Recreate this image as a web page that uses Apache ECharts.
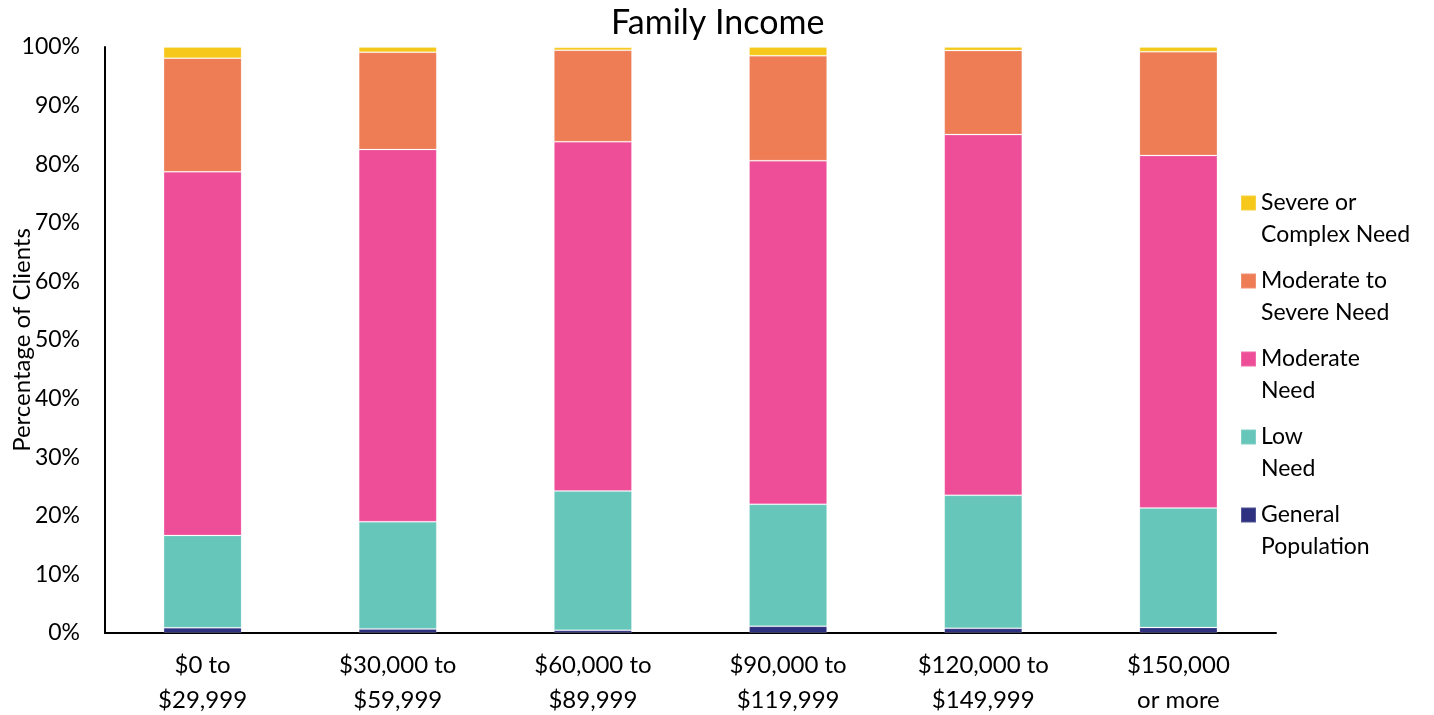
<!DOCTYPE html>
<html>
<head>
<meta charset="utf-8">
<title>Family Income</title>
<script src="https://cdn.jsdelivr.net/npm/echarts@6/dist/echarts.min.js"></script>
<style>
  html, body { margin: 0; padding: 0; background: #ffffff; }
  #chart { width: 1434px; height: 715px; }
</style>
</head>
<body>
<div id="chart"></div>
<script>
// Income brackets (x axis)
const categories = [
  '$0 to\n$29,999',
  '$30,000 to\n$59,999',
  '$60,000 to\n$89,999',
  '$90,000 to\n$119,999',
  '$120,000 to\n$149,999',
  '$150,000\nor more'
];

// Share of clients in each need level, percent (stacked bottom to top)
const generalPopulation = [0.9, 0.7, 0.45, 1.15, 0.8, 0.95];
const lowNeed           = [15.75, 18.3, 23.8, 20.8, 22.7, 20.4];
const moderateNeed      = [62.05, 63.5, 59.6, 58.65, 61.55, 60.15];
const moderateToSevere  = [19.4, 16.6, 15.6, 17.9, 14.35, 17.7];
const severeOrComplex   = [1.9, 0.9, 0.5, 1.5, 0.6, 0.8];

// Y axis ticks
const yTicks = [0, 10, 20, 30, 40, 50, 60, 70, 80, 90, 100];

const FONT = 'Lato, "Open Sans", sans-serif';

const seriesDefs = [
  { name: 'General Population',      label: 'General\nPopulation',       data: generalPopulation, color: '#2E3080' },
  { name: 'Low Need',                label: 'Low\nNeed',                 data: lowNeed,           color: '#66C6BA' },
  { name: 'Moderate Need',           label: 'Moderate\nNeed',            data: moderateNeed,      color: '#EE4D98' },
  { name: 'Moderate to Severe Need', label: 'Moderate to\nSevere Need',  data: moderateToSevere,  color: '#EE7C55' },
  { name: 'Severe or Complex Need',  label: 'Severe or\nComplex Need',   data: severeOrComplex,   color: '#F6C81B' }
];

const legendText = {};
seriesDefs.forEach(s => { legendText[s.name] = s.label; });

const chart = echarts.init(document.getElementById('chart'), null, { renderer: 'canvas' });

chart.setOption({
  animation: false,
  backgroundColor: '#ffffff',
  textStyle: { fontFamily: FONT },
  title: {
    text: 'Family Income',
    left: 606,
    top: 1,
    textStyle: { fontFamily: FONT, fontSize: 34, fontWeight: 'normal', color: '#000000' }
  },
  legend: {
    orient: 'vertical',
    left: 1235,
    top: 150,
    itemWidth: 15,
    itemHeight: 15,
    itemGap: -18,
    icon: 'rect',
    data: seriesDefs.map(s => s.name).reverse(),
    // leading blank line keeps the first text line level with the swatch
    formatter: name => '\n' + legendText[name],
    textStyle: {
      fontFamily: FONT,
      fontSize: 23,
      lineHeight: 32,
      color: '#000000'
    }
  },
  grid: {
    left: 105,
    right: 158,
    top: 47,
    bottom: 82,
    containLabel: false,
    outerBoundsMode: 'none'
  },
  xAxis: {
    type: 'category',
    data: categories,
    axisLine: { show: true, lineStyle: { color: '#000000', width: 2 } },
    axisTick: { show: false },
    axisLabel: {
      fontFamily: FONT,
      fontSize: 24,
      lineHeight: 35,
      color: '#000000',
      margin: 15,
      interval: 0
    }
  },
  yAxis: {
    type: 'value',
    min: yTicks[0],
    max: yTicks[yTicks.length - 1],
    interval: yTicks[1] - yTicks[0],
    name: 'Percentage of Clients',
    nameLocation: 'middle',
    nameGap: 71,
    nameMoveOverlap: false,
    nameTextStyle: { fontFamily: FONT, fontSize: 24, color: '#000000' },
    axisLine: { show: true, lineStyle: { color: '#000000', width: 2 } },
    axisTick: { show: false },
    splitLine: { show: false },
    axisLabel: {
      fontFamily: FONT,
      fontSize: 23,
      color: '#000000',
      margin: 25,
      formatter: v => v + '%'
    }
  },
  series: seriesDefs.map(s => ({
    name: s.name,
    type: 'bar',
    stack: 'total',
    barWidth: '40%',
    data: s.data,
    itemStyle: {
      color: s.color,
      borderColor: 'rgba(255,255,255,0.18)',
      borderWidth: 1
    },
    emphasis: { disabled: true }
  }))
});
</script>
</body>
</html>
